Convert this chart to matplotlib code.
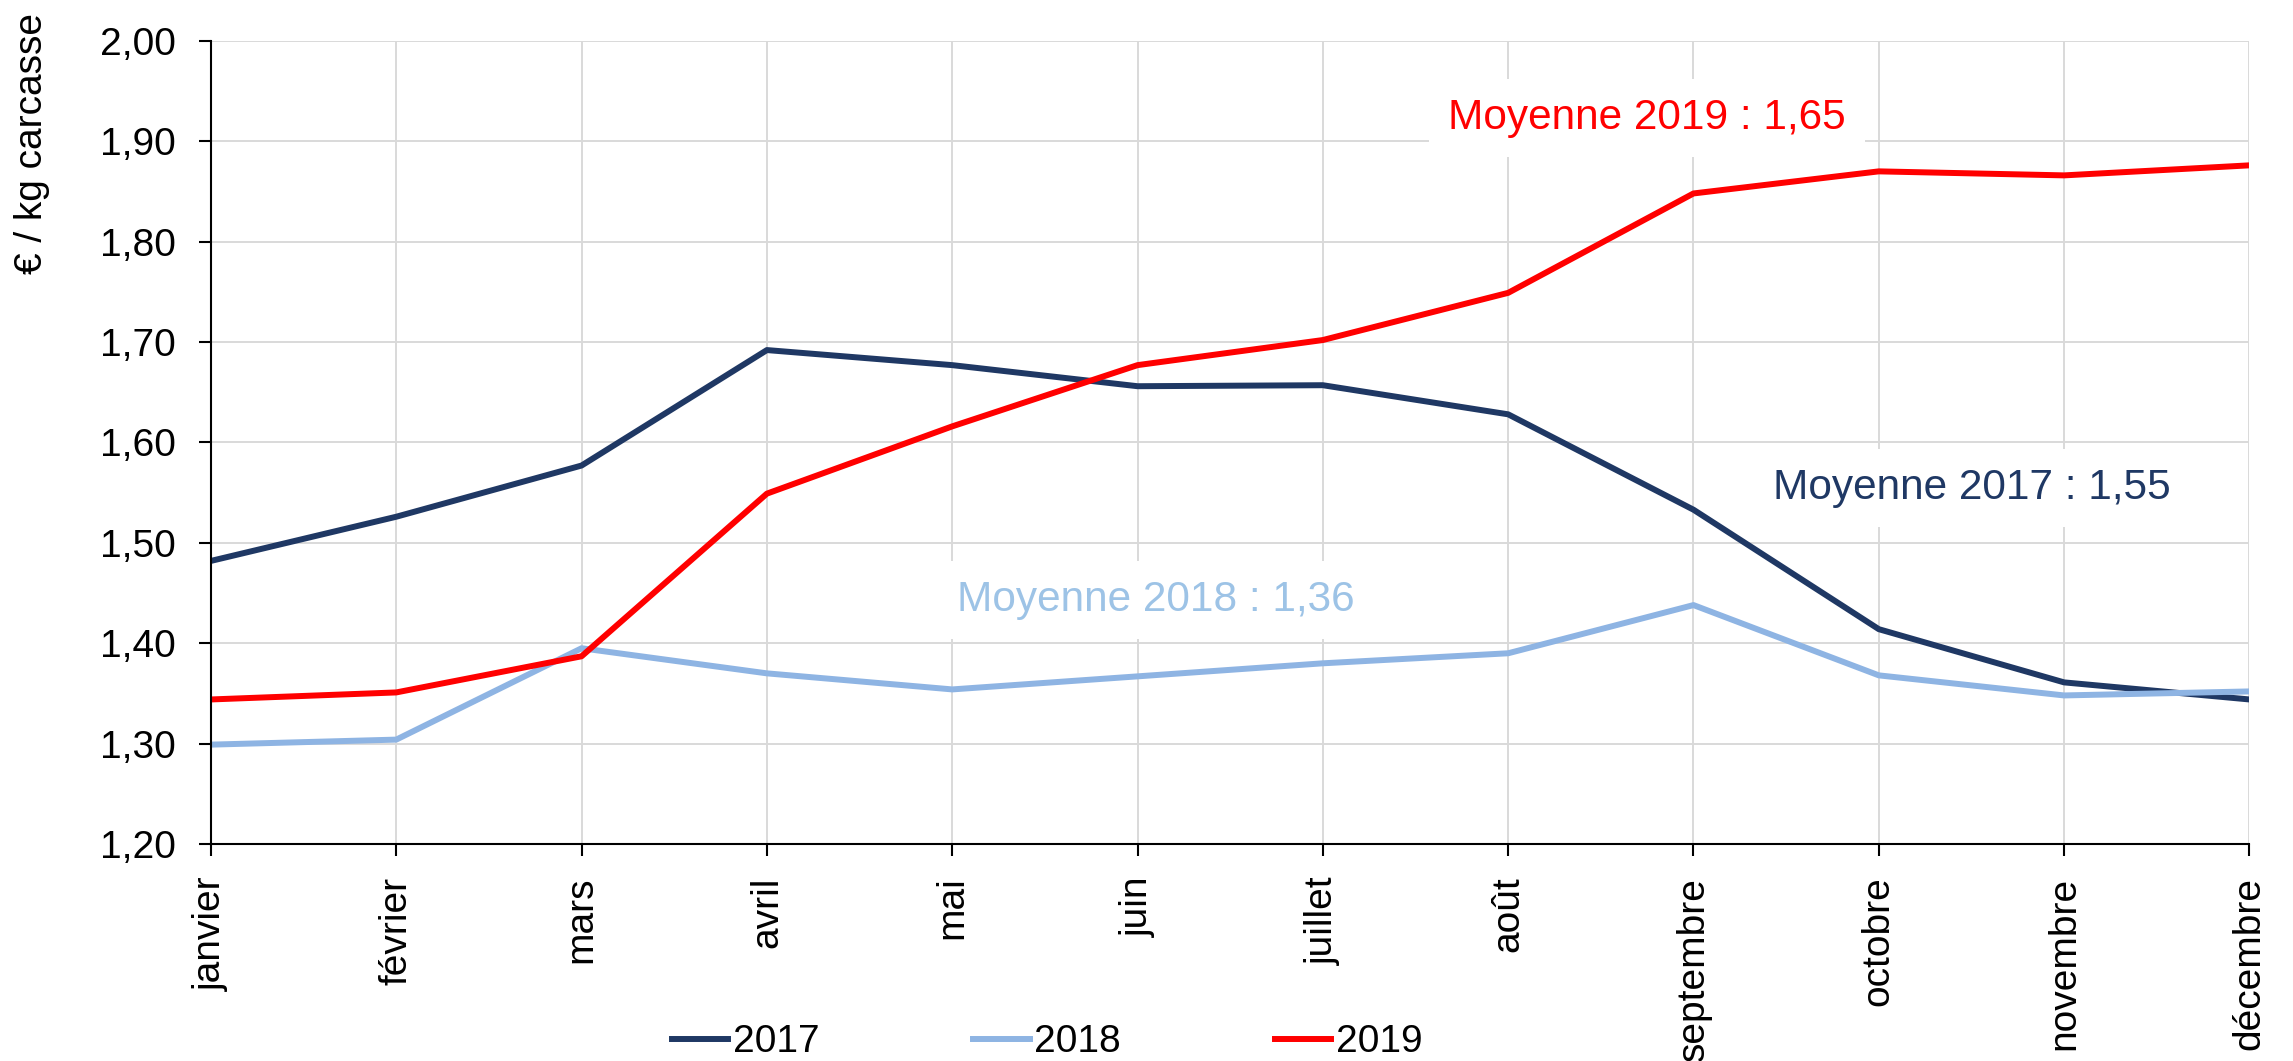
import matplotlib
matplotlib.use("Agg")
import matplotlib.pyplot as plt

plt.rcParams["font.family"] = ["Liberation Sans", "DejaVu Sans"]

months = ["janvier", "février", "mars", "avril", "mai", "juin", "juillet",
          "août", "septembre", "octobre", "novembre", "décembre"]
prix_2017 = [1.482, 1.526, 1.577, 1.692, 1.677, 1.656, 1.657, 1.628, 1.533, 1.414, 1.361, 1.344]
prix_2018 = [1.299, 1.304, 1.395, 1.370, 1.354, 1.367, 1.380, 1.390, 1.438, 1.368, 1.348, 1.352]
prix_2019 = [1.344, 1.351, 1.387, 1.549, 1.616, 1.677, 1.702, 1.749, 1.848, 1.870, 1.866, 1.876]
yticks = [1.2, 1.3, 1.4, 1.5, 1.6, 1.7, 1.8, 1.9, 2.0]

colors = {"2017": "#1f3864", "2018": "#8eb4e3", "2019": "#ff0000"}

fig = plt.figure(figsize=(22.93, 10.61), dpi=100)
ax = fig.add_axes([0.092, 0.2045, 0.889, 0.757])

x = list(range(len(months)))
ax.plot(x, prix_2017, color=colors["2017"], lw=4.3, label="2017", zorder=3)
ax.plot(x, prix_2018, color=colors["2018"], lw=4.3, label="2018", zorder=3)
ax.plot(x, prix_2019, color=colors["2019"], lw=4.3, label="2019", zorder=3)

ax.set_xlim(0, len(months) - 1)
ax.set_ylim(1.2, 2.0)
ax.set_xticks(x)
ax.set_xticklabels(months, rotation=90, fontsize=28)
ax.set_yticks(yticks)
ax.set_yticklabels([f"{v:.2f}".replace(".", ",") for v in yticks], fontsize=28)
ax.tick_params(axis="both", direction="out", length=8.5, width=1.5, color="black")
ax.tick_params(axis="y", pad=17)
ax.tick_params(axis="x", pad=15)

ax.grid(True, color="#d9d9d9", lw=1.4, zorder=0)
ax.set_axisbelow(True)
for s in ["top", "right"]:
    ax.spines[s].set_visible(False)
for s in ["left", "bottom"]:
    ax.spines[s].set_linewidth(1.5)
    ax.spines[s].set_zorder(4)

box = dict(boxstyle="square,pad=0.45", facecolor="white", edgecolor="none")
ax.text(7.75, 1.923, "Moyenne 2019 : 1,65", color="#ff0000", fontsize=30.5,
        ha="center", va="center", bbox=box, zorder=2)
ax.text(9.50, 1.555, "Moyenne 2017 : 1,55", color="#1f3864", fontsize=30.5,
        ha="center", va="center", bbox=box, zorder=2)
ax.text(5.10, 1.443, "Moyenne 2018 : 1,36", color="#9dc3e6", fontsize=30.5,
        ha="center", va="center", bbox=box, zorder=2)

fig.text(0.014, 0.865, "€ / kg carcasse", rotation=90, fontsize=28,
         ha="center", va="center")

fig.legend(loc="lower center", bbox_to_anchor=(0.4567, -0.014), ncol=3,
           frameon=False, fontsize=28, handlelength=1.45, handletextpad=0.12,
           columnspacing=3.95, borderaxespad=0)

fig.savefig("out.png", dpi=100)
